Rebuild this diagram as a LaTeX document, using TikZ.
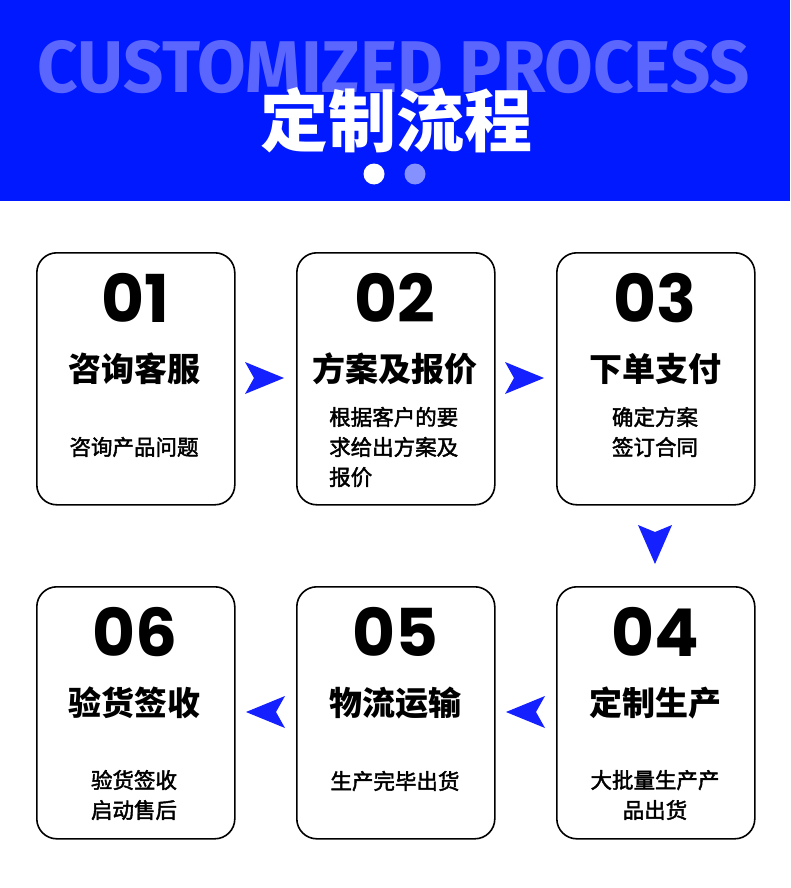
\documentclass[tikz,border=0pt]{standalone}
\usepackage{fontspec}
\usepackage{graphicx}
\newfontfamily\cjk{Noto Sans CJK SC}
\newfontfamily\cjkd{Noto Sans CJK SC}[FakeBold=2]
\newfontfamily\numfont{Poppins}
\newfontfamily\engfont{Fira Sans}
\usetikzlibrary{calc}
\definecolor{hdrblue}{HTML}{0019FF}
\definecolor{lightblue}{HTML}{5B66FF}
\definecolor{dotblue}{HTML}{8591FF}
\definecolor{arrblue}{HTML}{1420FF}
\tikzset{
  stepbox/.style={draw=black, line width=1.6pt, rounded corners=20pt, minimum width=198pt, minimum height=252pt, anchor=north west, fill=white},
  numtxt/.style={font=\numfont\bfseries\fontsize{66}{66}\selectfont, anchor=center, inner sep=0pt},
  ttltxt/.style={font=\cjk\bfseries\fontsize{33}{33}\selectfont, anchor=center, inner sep=0pt},
  desctxt/.style={font=\cjkd\fontsize{21.5}{30}\selectfont, anchor=center, inner sep=0pt},
  arrowshape/.style={fill=arrblue, draw=none}
}
\begin{document}
\begin{tikzpicture}[x=1pt,y=-1pt]
\useasboundingbox (0,0) rectangle (790,888);
\fill[white] (0,0) rectangle (790,888);
% header
\fill[hdrblue] (0,0) rectangle (790,201);
\node[inner sep=0pt, text=lightblue, anchor=center] (eng) at (394,67) {\resizebox{712pt}{52pt}{\engfont\bfseries CUSTOMIZED PROCESS}};
\node[inner sep=0pt, text=white, font=\cjk\bfseries\fontsize{68}{68}\selectfont, anchor=center] (title) at (396,120) {定制流程};
\fill[white] (374,174) circle (10.5);
\fill[dotblue] (415,174) circle (10.5);
% boxes
\node[stepbox] (b1) at (36,252) {};
\node[stepbox] (b2) at (296,252) {};
\node[stepbox] (b3) at (556,252) {};
\node[stepbox] (b4) at (556,586) {};
\node[stepbox] (b5) at (296,586) {};
\node[stepbox] (b6) at (36,586) {};
% row 1 text
\node[numtxt] (n1) at (135,298) {01};
\node[numtxt] (n2) at (395,298) {02};
\node[numtxt] (n3) at (655,298) {03};
\node[ttltxt] (t1) at (134,369) {咨询客服};
\node[ttltxt] (t2) at (395,369) {方案及报价};
\node[ttltxt] (t3) at (655,369) {下单支付};
\node[desctxt] (d1) at (134,447) {咨询产品问题};
\node[desctxt, align=left, anchor=west] (d2) at (329,447) {根据客户的要\\求给出方案及\\报价};
\node[desctxt, align=center] (d3) at (655,432) {确定方案\\签订合同};
% row 2 text
\node[numtxt] (n4) at (655,632) {04};
\node[numtxt] (n5) at (395,632) {05};
\node[numtxt] (n6) at (135,632) {06};
\node[ttltxt] (t4) at (655,703) {定制生产};
\node[ttltxt] (t5) at (395,703) {物流运输};
\node[ttltxt] (t6) at (134,703) {验货签收};
\node[desctxt, align=center] (d4) at (655,795) {大批量生产产\\品出货};
\node[desctxt] (d5) at (395,781) {生产完毕出货};
\node[desctxt, align=center] (d6) at (134,795) {验货签收\\启动售后};
% arrows
\fill[arrowshape] (245,362) -- (284,378) -- (245,394) -- (254,378) -- cycle;
\fill[arrowshape] (505,362) -- (544,378) -- (505,394) -- (514,378) -- cycle;
\fill[arrowshape] (638,525) -- (655,532) -- (672,525) -- (655,564) -- cycle;
\fill[arrowshape] (545,696) -- (506,712) -- (545,728) -- (536,712) -- cycle;
\fill[arrowshape] (285,696) -- (246,712) -- (285,728) -- (276,712) -- cycle;
\end{tikzpicture}
\end{document}
